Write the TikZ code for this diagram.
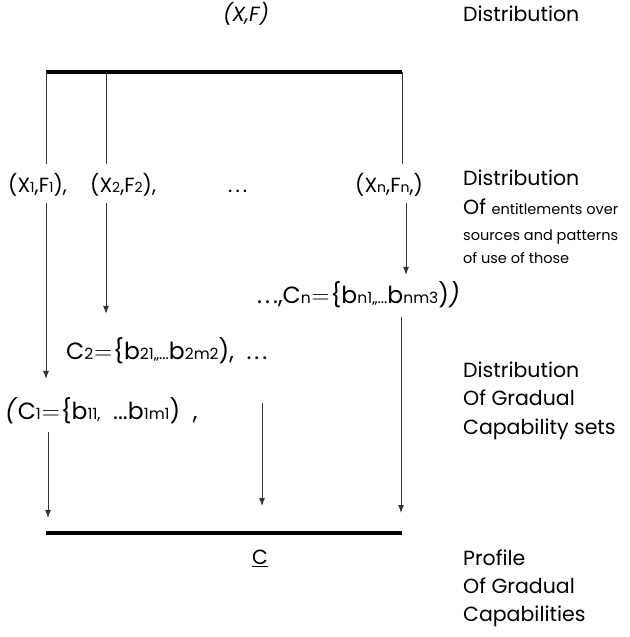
\documentclass[tikz,border=0pt]{standalone}
\usepackage{fontspec}
\setmainfont{Poppins}
\usetikzlibrary{arrows.meta,positioning}
\newcommand\lo[1]{{\fontsize{14}{14}\selectfont #1}}
\newcommand\losub[1]{{\fontsize{15.5}{15}\selectfont #1}}
\newcommand\sdots{.\hspace{3pt}.\hspace{3pt}.}
\newcommand\eqsign{\hspace{1pt}$=$\hspace{1pt}}

\begin{document}
\begin{tikzpicture}[x=1pt,y=-1pt,font=\fontsize{20.5}{24}\selectfont,
  bar/.style={line width=4pt},
  wire/.style={line width=1pt,black!80},
  arr/.style={wire,-{Latex[length=8pt,width=6pt]}},
  lab/.style={anchor=base west,inner sep=0pt},
  expr/.style={lab,font=\fontsize{23.5}{28}\selectfont},
  small/.style={lab,font=\fontsize{14.5}{17}\selectfont}]
\useasboundingbox (0,0) rectangle (629,637);

% thick bars
\coordinate (tl) at (46,72);
\coordinate (tr) at (402,72);
\coordinate (bl) at (46,533);
\coordinate (br) at (402,533);
\draw[bar] (tl) -- (tr);
\draw[bar] (bl) -- (br);

\node (xf) at (246,14) {\textit{(X,F)}};
\node[lab] (dist0) at (463,21) {Distribution};

% entitlement pairs
\node[lab] (p1) at (8,192) {(X\lo1,F\lo1),};
\node[lab] (p2) at (90,192) {(X\lo2,F\lo2),};
\node[lab] (pdots) at (228,192) {\sdots};
\node[lab] (pn) at (355,192) {(X\lo n,F\lo n,)};

% capability sets
\node[expr] (cn) at (257,303) {\sdots,C\losub n\eqsign\{b\losub{n1,,...}b\losub{nm3})\textit{)}};
\node[expr] (c2) at (66,359) {C\losub2\eqsign\{b\losub{21,,...}b\losub{2m2}),\ \ \sdots};
\node[expr] (c1) at (5,419) {\textit{(}C\losub1\eqsign\{b\losub{11,}\ \ ...b\losub{1m1})\ \ ,};

\node (cc) at (260,558) {\underline{C}};

% right column
\node[lab] (dist1) at (463,185) {Distribution};
\node[lab] (of1) at (463,214) {Of \fontsize{14.5}{17}\selectfont entitlements over};
\node[small] (src) at (463,240) {sources and patterns};
\node[small] (use) at (463,263) {of use of those};

\node[lab] (dist2) at (463,377) {Distribution};
\node[lab] (of2) at (463,405) {Of Gradual};
\node[lab] (sets) at (463,434) {Capability sets};

\node[lab] (prof) at (463,565) {Profile};
\node[lab] (of3) at (463,593) {Of Gradual};
\node[lab] (caps) at (463,621) {Capabilities};

% connectors
\draw[wire] ([yshift=1pt]tl) -- ([yshift=9pt]tl |- p1.north);
\draw[wire] (106,72) coordinate (tm) -- ([yshift=9pt]tm |- p2.north);
\draw[wire] (tr) -- ([yshift=9pt]tr |- pn.north);

\draw[arr] ([yshift=-7pt]tl |- p1.south) -- ([yshift=18pt]tl |- c1.north);
\draw[arr] ([yshift=-7pt]tm |- p2.south) -- ([yshift=23pt]tm |- c2.north);
\draw[arr] ([yshift=-7pt]406,0 |- pn.south) coordinate (pnb) -- ([yshift=6pt]pnb |- cn.north);

\coordinate (a1) at (48,0);
\coordinate (a2) at (262,0);
\coordinate (a3) at (401,0);
\draw[arr] ([yshift=-8pt]a1 |- c1.south) -- ([yshift=15pt]a1 |- bl);
\draw[arr] ([yshift=-6pt]a2 |- c1.north) -- ([yshift=27pt]a2 |- bl);
\draw[arr] ([yshift=-9pt]a3 |- cn.south) -- ([yshift=20pt]a3 |- bl);
\end{tikzpicture}
\end{document}
